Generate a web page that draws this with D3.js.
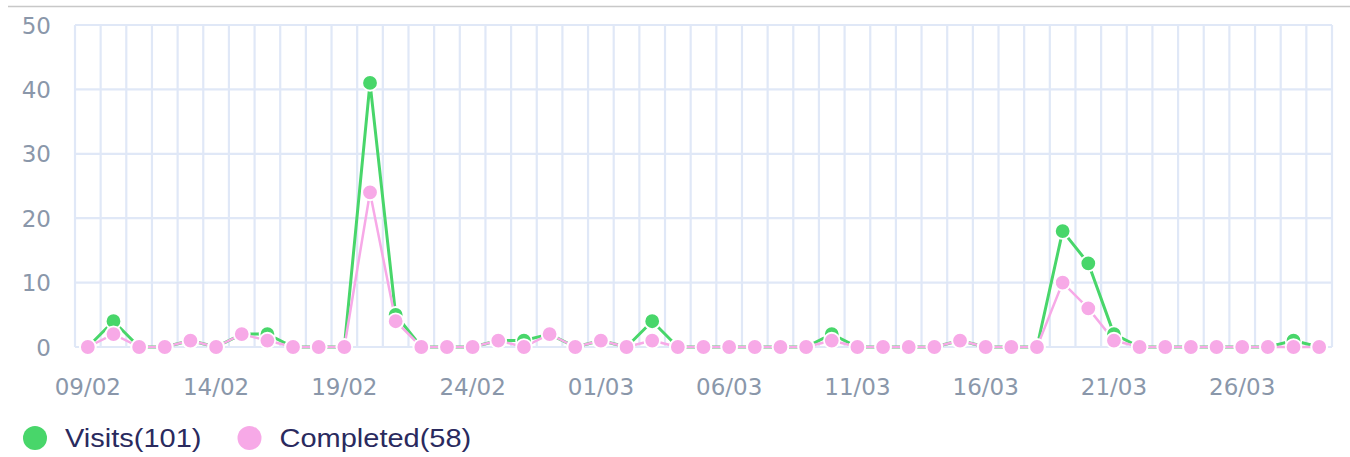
<!DOCTYPE html>
<html>
<head>
<meta charset="utf-8">
<script src="https://cdn.jsdelivr.net/npm/d3@7"></script>
<style>
  html, body { margin: 0; padding: 0; background: #fff; }
  svg { display: block; }
</style>
</head>
<body>
<div id="chart"></div>
<script>
// daily labels 09/02 .. 29/03
const days = [
  '09/02','10/02','11/02','12/02','13/02','14/02','15/02','16/02','17/02','18/02',
  '19/02','20/02','21/02','22/02','23/02','24/02','25/02','26/02','27/02','28/02',
  '01/03','02/03','03/03','04/03','05/03','06/03','07/03','08/03','09/03','10/03',
  '11/03','12/03','13/03','14/03','15/03','16/03','17/03','18/03','19/03','20/03',
  '21/03','22/03','23/03','24/03','25/03','26/03','27/03','28/03','29/03'
];
const visits = [
  0,4,0,0,1,0,2,2,0,0,
  0,41,5,0,0,0,1,1,2,0,
  1,0,4,0,0,0,0,0,0,2,
  0,0,0,0,1,0,0,0,18,13,
  2,0,0,0,0,0,0,1,0
];
const completed = [
  0,2,0,0,1,0,2,1,0,0,
  0,24,4,0,0,0,1,0,2,0,
  1,0,1,0,0,0,0,0,0,1,
  0,0,0,0,1,0,0,0,10,6,
  1,0,0,0,0,0,0,0,0
];
const yTicks = [0, 10, 20, 30, 40, 50];
const series = [
  { name: 'Visits', values: visits, color: '#48d66a', width: 3 },
  { name: 'Completed', values: completed, color: '#f7a9e7', width: 2.5 }
];

const W = 1350, H = 457;
const m = { top: 25, right: 18, bottom: 110, left: 75 };

const svg = d3.select('#chart').append('svg')
  .attr('width', W)
  .attr('height', H);

// thin rule across the top
svg.append('line')
  .attr('x1', 8).attr('x2', W)
  .attr('y1', 6.5).attr('y2', 6.5)
  .attr('stroke', '#c8c8c8')
  .attr('stroke-width', 1.5);

var x = d3.scaleBand()
  .domain(days)
  .range([m.left, W - m.right]);

var y = d3.scaleLinear()
  .domain([0, 50])
  .range([H - m.bottom, m.top]);

var cx = d => x(d) + x.bandwidth() / 2;

var grid = svg.append('g').attr('class', 'grid');

// vertical grid at day boundaries
var edges = days.map(d => x(d)).concat([x(days[days.length - 1]) + x.bandwidth()]);
grid.selectAll('.vline')
  .data(edges)
  .enter().append('line')
  .attr('class', 'vline')
  .attr('x1', d => d).attr('x2', d => d)
  .attr('y1', y(50)).attr('y2', y(0))
  .attr('stroke', '#e0e8f7')
  .attr('stroke-width', 2.2);

grid.selectAll('.hline')
  .data(yTicks)
  .enter().append('line')
  .attr('class', 'hline')
  .attr('x1', m.left).attr('x2', W - m.right)
  .attr('y1', d => y(d)).attr('y2', d => y(d))
  .attr('stroke', '#e0e8f7')
  .attr('stroke-width', 2.2);

// y axis labels
var yAxis = svg.append('g')
  .attr('transform', 'translate(' + (m.left - 24) + ',0)')
  .call(d3.axisLeft(y).tickValues(yTicks).tickSize(0).tickPadding(0));
yAxis.select('.domain').remove();
yAxis.selectAll('text')
  .attr('font-family', 'DejaVu Sans, sans-serif')
  .attr('font-size', 23)
  .attr('fill', '#8a97aa')
  .attr('dy', '0.35em');

// x axis labels, every 5th day
var xAxis = svg.append('g')
  .attr('transform', 'translate(0,' + (y(0) + 40) + ')')
  .call(d3.axisBottom(x).tickValues(days.filter((d, i) => i % 5 === 0)).tickSize(0).tickPadding(0));
xAxis.select('.domain').remove();
xAxis.selectAll('text')
  .attr('font-family', 'DejaVu Sans, sans-serif')
  .attr('font-size', 23)
  .attr('fill', '#8a97aa')
  .attr('dy', '0.35em');

var line = d3.line()
  .x((v, i) => cx(days[i]))
  .y(v => y(v));

var lines = svg.append('g').attr('class', 'lines');
series.forEach(function(s) {
  lines.append('path')
    .datum(s.values)
    .attr('fill', 'none')
    .attr('stroke', s.color)
    .attr('stroke-width', s.width)
    .attr('stroke-linejoin', 'round')
    .attr('d', line);
});

var marks = svg.append('g').attr('class', 'markers');
series.forEach(function(s) {
  marks.append('g').selectAll('circle')
    .data(s.values)
    .enter().append('circle')
    .attr('cx', (v, i) => cx(days[i]))
    .attr('cy', v => y(v))
    .attr('r', 7.8)
    .attr('fill', s.color)
    .attr('stroke', '#fff')
    .attr('stroke-width', 1.8);
});

// legend
var legend = svg.append('g').attr('class', 'legend')
  .attr('transform', 'translate(0,438)');
var legendX = [35, 249.5];
var legendItems = legend.selectAll('g')
  .data(series)
  .enter().append('g')
  .attr('transform', (d, i) => 'translate(' + legendX[i] + ',0)');
legendItems.append('circle')
  .attr('r', 12)
  .attr('fill', d => d.color);
legendItems.append('text')
  .attr('transform', 'translate(30,0) scale(1.16,1)')
  .attr('dy', '0.35em')
  .attr('font-family', 'Liberation Sans, Arial, sans-serif')
  .attr('font-size', 25)
  .attr('fill', '#2a2a5e')
  .text(d => d.name + '(' + d3.sum(d.values) + ')');
</script>
</body>
</html>
